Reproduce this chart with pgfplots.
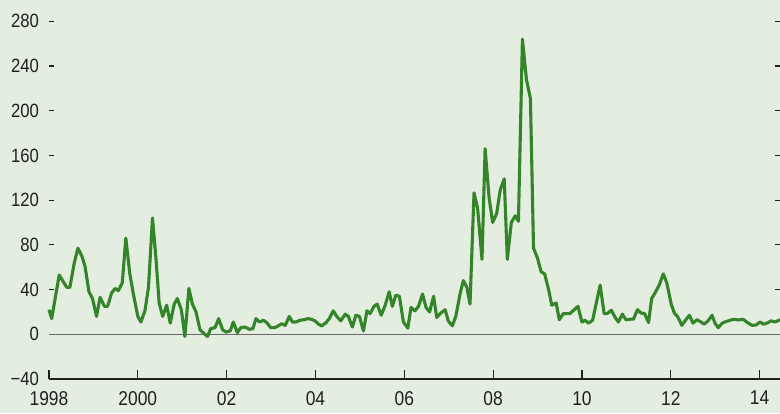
\documentclass[border=0pt]{standalone}
\usepackage{pgfplots}
\pgfplotsset{compat=1.18}
\usepackage{fontspec}
\setmainfont{Liberation Sans}
\newfontfamily\condfont[FakeStretch=0.87]{Liberation Sans}
\usetikzlibrary{backgrounds}
\definecolor{bgcol}{RGB}{227,237,224}
\definecolor{linecol}{RGB}{52,132,42}
\definecolor{txtcol}{RGB}{35,31,32}
\definecolor{zerocol}{RGB}{105,105,105}

\pgfplotstableread{
year value
1998.00 22
1998.06 14
1998.23 53
1998.40 42
1998.47 42
1998.57 64
1998.65 77
1998.74 70
1998.81 61
1998.90 38
1998.98 32
1999.07 16
1999.15 33
1999.25 25
1999.32 25
1999.41 37
1999.49 41
1999.56 39
1999.65 46
1999.73 86
1999.82 54
1999.90 36
2000.00 16
2000.07 11
2000.16 21
2000.24 42
2000.33 104
2000.41 67
2000.48 28
2000.56 16
2000.65 26
2000.73 10
2000.82 27
2000.89 32
2000.98 22
2001.06 -2
2001.15 41
2001.23 27
2001.31 20
2001.40 4
2001.48 1
2001.57 -2
2001.64 5
2001.74 6
2001.82 14
2001.91 4
2001.99 2
2002.08 3
2002.15 11
2002.24 1.5
2002.32 6
2002.41 6.5
2002.51 4.5
2002.59 5
2002.66 14
2002.74 11
2002.83 12.5
2002.90 10.5
2002.99 6
2003.09 6
2003.16 7.5
2003.24 9.5
2003.32 8
2003.41 16
2003.48 11
2003.56 11
2003.65 12.5
2003.73 13
2003.83 14
2003.90 13.5
2003.99 12
2004.07 9
2004.14 7.5
2004.24 10.5
2004.31 14
2004.40 21
2004.48 16
2004.57 12
2004.67 18
2004.74 16
2004.83 6.5
2004.91 17
2004.99 16
2005.08 3
2005.16 21
2005.23 18.5
2005.32 25
2005.39 27
2005.48 17
2005.57 26
2005.66 38
2005.73 25
2005.81 35
2005.89 34
2005.98 11
2006.08 5.5
2006.15 24
2006.24 21
2006.32 25
2006.41 36
2006.49 24
2006.57 20
2006.66 34
2006.73 15
2006.82 19
2006.92 22
2006.99 12
2007.08 7.5
2007.16 16
2007.26 37
2007.33 48
2007.41 42
2007.48 27
2007.57 126.5
2007.65 113
2007.75 67
2007.82 166
2007.91 122
2007.99 100
2008.08 108
2008.16 129
2008.25 139
2008.32 67
2008.41 100
2008.50 106
2008.57 101
2008.66 264
2008.75 228
2008.84 211
2008.91 77
2009.00 68
2009.08 56
2009.16 54
2009.25 40
2009.32 26
2009.42 28
2009.49 13
2009.58 18.5
2009.66 18.5
2009.73 18.5
2009.91 25
2010.00 11
2010.07 12.5
2010.15 10
2010.24 12.5
2010.34 31
2010.41 44
2010.50 18.5
2010.57 18.5
2010.66 21.5
2010.75 15
2010.82 11
2010.91 18
2010.99 13
2011.09 13.5
2011.16 13.5
2011.25 22
2011.33 19
2011.41 18.5
2011.50 10.5
2011.57 32
2011.66 38
2011.74 44
2011.83 54
2011.91 46
2012.01 27
2012.08 19
2012.16 15.5
2012.25 8
2012.34 13
2012.42 17
2012.50 10
2012.59 13
2012.68 11
2012.75 9
2012.84 12
2012.93 17
2013.00 9.5
2013.07 6
2013.16 10
2013.24 11.3
2013.33 12.5
2013.42 13.4
2013.52 12.8
2013.63 13.4
2013.73 10.4
2013.83 8
2013.92 8.3
2014.01 11
2014.09 9
2014.19 10.4
2014.26 12
2014.35 11
2014.46 13
}\spreads

\begin{document}
\begin{tikzpicture}
\begin{axis}[
    scale only axis,
    width=365.5pt, height=189.5pt,
    xmin=1998, xmax=2014.46,
    ymin=-40, ymax=299,
    axis line style={draw=none},
    tick align=inside,
    major tick length=2.5pt,
    xtick pos=bottom, ytick pos=both,
    xtick=\empty,
    extra x ticks={1998,2000,...,2014},
    extra x tick labels={1998,2000,02,04,06,08,10,12,14},
    extra x tick style={major tick length=4.5pt, xtick pos=bottom},
    ytick={-40,0,40,...,280},
    yticklabels={−40,0,40,80,120,160,200,240,280},
    x tick style={txtcol, line width=0.6pt},
    y tick style={txtcol, line width=0.6pt},
    xticklabel style={font=\condfont\fontsize{10}{11}\selectfont, text=txtcol, yshift=-2.5pt},
    yticklabel style={font=\condfont\fontsize{9.6}{10}\selectfont, text=txtcol, xshift=-1.5pt},
    clip=false,
]
\draw[txtcol, line width=0.6pt] (rel axis cs:0,0) -- (rel axis cs:1,0);
\draw[zerocol, line width=0.6pt] (axis cs:1998,0) -- (axis cs:2014.46,0);
\addplot[linecol, line width=1.55pt, line join=round] table[x=year, y=value] {\spreads};
\coordinate (SW) at (rel axis cs:0,0);
\coordinate (NE) at (rel axis cs:1,1);
\end{axis}
\pgfresetboundingbox
\useasboundingbox ([shift={(-24.5pt,-17pt)}]SW) rectangle (NE);
\begin{pgfonlayer}{background}
\fill[bgcol] ([shift={(-24.5pt,-17pt)}]SW) rectangle (NE);
\end{pgfonlayer}
\end{tikzpicture}
\end{document}
